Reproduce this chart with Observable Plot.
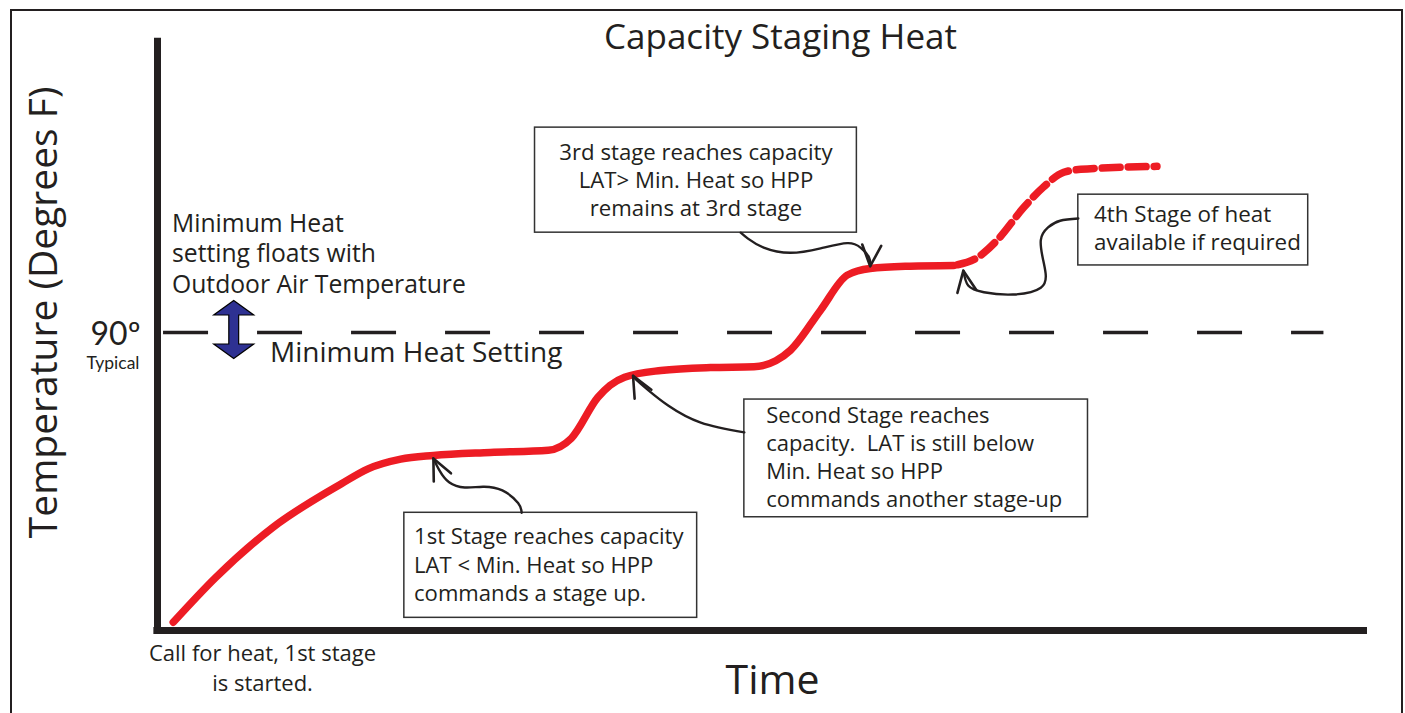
<!DOCTYPE html>
<html>
<head>
<meta charset="utf-8">
<script src="https://cdn.jsdelivr.net/npm/d3@7"></script>
<script src="https://cdn.jsdelivr.net/npm/@observablehq/plot@0.6"></script>
<style>
html, body { margin: 0; padding: 0; background: #fff; width: 1405px; height: 713px; overflow: hidden; }
#wrap { position: relative; width: 1405px; height: 713px; }
#wrap svg { position: absolute; left: 0; top: 0; }
#border { position: absolute; left: 10px; top: 9px; width: 1389px; height: 740px; border: 2px solid #231f20; pointer-events: none; }
</style>
</head>
<body>
<div id="wrap"><div id="border"></div></div>
<script>
// ---------- DATA (time in arbitrary units 0–100, temperature in °F) ----------
const stageTime = [1.3, 4.8, 9.5, 15.2, 17.4, 20.1, 22.8, 27.5, 32.3, 34.2, 36.4, 37.4, 38.6, 41.6, 45.7, 49.3, 51.1, 52.3, 54.8, 57.0, 58.9, 62.2, 65.8];
const stageTemp = [51.1, 57.1, 63.8, 69.7, 71.7, 73.0, 73.5, 73.9, 74.2, 75.8, 81.3, 82.9, 84.0, 84.9, 85.3, 85.4, 86.2, 87.6, 93.0, 97.7, 98.6, 98.9, 99.0];
const reserveTime = [65.8, 67.8, 69.4, 71.6, 73.2, 74.9, 76.3, 82.6];
const reserveTemp = [99.0, 100.1, 102.4, 106.8, 109.5, 111.5, 111.9, 112.3];
const minHeatSetting = 90;
const yTickLabels = ["90º", "Typical"];
const titleText = "Capacity Staging Heat";
const xLabel = "Time";
const yLabel = "Temperature (Degrees F)";
const startNote = "Call for heat, 1st stage\nis started.";
const floatNote = "Minimum Heat\nsetting floats with\nOutdoor Air Temperature";
const settingLabel = "Minimum Heat Setting";
const calloutTexts = [
  "3rd stage reaches capacity\nLAT> Min. Heat so HPP\nremains at 3rd stage",
  "4th Stage of heat\navailable if required",
  "1st Stage reaches capacity\nLAT < Min. Heat so HPP\ncommands a stage up.",
  "Second Stage reaches\ncapacity.\u00a0 LAT is still below\nMin. Heat so HPP\ncommands another stage-up"
];
// connector paths (time, temperature) from callout box to curve
const connectorA = {t: [48.2, 48.8, 50.1, 52.3, 54.8, 57.0, 58.1, 58.8, 58.9], T: [103.4, 102.6, 101.4, 100.7, 101.3, 102.0, 101.4, 100.1, 98.9]};
const connectorB = {t: [76.1, 74.6, 73.6, 73.0, 73.2, 73.4, 73.0, 70.7, 68.3, 67.0, 66.6], T: [105.3, 105.0, 104.1, 102.4, 99.7, 97.9, 96.0, 95.1, 95.4, 96.3, 98.3]};
const connectorC = {t: [30.1, 29.8, 28.5, 26.9, 25.4, 24.1, 23.3, 22.8], T: [65.8, 67.1, 68.8, 69.3, 69.2, 69.9, 71.5, 73.1]};
const connectorD = {t: [48.5, 44.9, 42.2, 40.6, 39.6, 39.3], T: [76.6, 77.9, 80.2, 82.2, 83.6, 84.2]};

// ---------- helpers ----------
const ink = "#231f20";
const font = "'Open Sans', Lato, sans-serif";
const pts = (t, T) => t.map((x, i) => ({t: x, T: T[i]}));

function openHead(color, context) {
  const doc = (context && context.document) || document;
  const ns = "http://www.w3.org/2000/svg";
  const m = doc.createElementNS(ns, "marker");
  m.setAttribute("viewBox", "-26 -14 30 28");
  m.setAttribute("markerUnits", "userSpaceOnUse");
  m.setAttribute("markerWidth", "30");
  m.setAttribute("markerHeight", "28");
  m.setAttribute("orient", "auto");
  m.setAttribute("overflow", "visible");
  const p = doc.createElementNS(ns, "path");
  p.setAttribute("d", "M-21,-9.5L0,0L-21,9.5");
  p.setAttribute("fill", "none");
  p.setAttribute("stroke", color);
  p.setAttribute("stroke-width", "2.6");
  p.setAttribute("stroke-linecap", "round");
  m.appendChild(p);
  m.node = () => m;
  return m;
}

const doubleArrow = {
  draw(ctx, size) {
    const h = Math.sqrt(size / Math.PI);
    const hw = h * 0.69, hh = h * 0.5, sw = h * 0.17;
    ctx.moveTo(0, -h);
    ctx.lineTo(hw, -h + hh);
    ctx.lineTo(sw, -h + hh);
    ctx.lineTo(sw, h - hh);
    ctx.lineTo(hw, h - hh);
    ctx.lineTo(0, h);
    ctx.lineTo(-hw, h - hh);
    ctx.lineTo(-sw, h - hh);
    ctx.lineTo(-sw, -h + hh);
    ctx.lineTo(-hw, -h + hh);
    ctx.closePath();
  }
};

const boxes = [
  {x1: 31.2, x2: 57.8, y1: 103.4, y2: 117.5},
  {x1: 76.1, x2: 95.1, y1: 99.0, y2: 108.5},
  {x1: 20.4, x2: 44.6, y1: 51.7, y2: 65.8},
  {x1: 48.5, x2: 76.9, y1: 65.2, y2: 81.0}
];
const connectorStyle = {x: "t", y: "T", curve: "natural", stroke: ink, strokeWidth: 2.4, strokeLinecap: "round", markerEnd: openHead};

const chart = Plot.plot({
  width: 1405,
  height: 713,
  marginLeft: 157,
  marginRight: 38,
  marginTop: 34,
  marginBottom: 83,
  x: {domain: [0, 100], axis: null},
  y: {domain: [50, 130], axis: null},
  style: {fontFamily: font, background: "transparent", overflow: "visible", color: ink},
  marks: [
    // minimum heat setting dashed line
    Plot.ruleY([minHeatSetting], {x1: 0.5, x2: 96.4, stroke: ink, strokeWidth: 3.5, strokeDasharray: "45,49"}),
    // axes
    Plot.ruleX([0], {y1: 49.5, y2: 129.5, stroke: ink, strokeWidth: 7}),
    Plot.ruleY([50], {x1: -0.3, x2: 100, stroke: ink, strokeWidth: 7}),
    // temperature curve
    Plot.line(pts(stageTime, stageTemp), {x: "t", y: "T", curve: "monotone-x", stroke: "#ed1c24", strokeWidth: 7.5}),
    Plot.line(pts(reserveTime, reserveTemp), {x: "t", y: "T", curve: "monotone-x", stroke: "#ed1c24", strokeWidth: 7.5, strokeDasharray: "18,8", strokeDashoffset: 22}),
    // double arrow
    Plot.dot([minHeatSetting], {x: 6.3, y: (d) => d, r: 29, symbol: doubleArrow, fill: "#2e3192", stroke: "#000", strokeWidth: 1.2, dy: -3}),
    // callout boxes
    Plot.rect(boxes, {x1: "x1", x2: "x2", y1: "y1", y2: "y2", fill: "white", stroke: "#333", strokeWidth: 1.5}),
    // connectors
    Plot.line(pts(connectorA.t, connectorA.T), connectorStyle),
    Plot.line(pts(connectorB.t, connectorB.T), connectorStyle),
    Plot.line(pts(connectorC.t, connectorC.T), connectorStyle),
    Plot.line(pts(connectorD.t, connectorD.T), connectorStyle),
    // callout texts
    Plot.text([calloutTexts[0]], {x: 44.5, y: 110.6, textAnchor: "middle", lineAnchor: "middle", fontSize: 22.2, lineHeight: 1.27, fill: ink}),
    Plot.text([calloutTexts[1]], {x: 77.4, y: 104.1, textAnchor: "start", lineAnchor: "middle", fontSize: 22.4, lineHeight: 1.25, fill: ink}),
    Plot.text([calloutTexts[2]], {x: 21.2, y: 59.0, textAnchor: "start", lineAnchor: "middle", fontSize: 22.1, lineHeight: 1.28, fill: ink}),
    Plot.text([calloutTexts[3]], {x: 50.3, y: 73.4, textAnchor: "start", lineAnchor: "middle", fontSize: 22, lineHeight: 1.27, fill: ink}),
    // min heat labels
    Plot.text([settingLabel], {x: 9.3, y: minHeatSetting, dy: 21, textAnchor: "start", fontSize: 28, fill: ink}),
    Plot.text([floatNote], {x: 1.2, y: 100.7, textAnchor: "start", lineAnchor: "middle", fontSize: 24.7, lineHeight: 1.22, fill: ink}),
    // y tick label
    Plot.text([yTickLabels[0]], {frameAnchor: "left", y: minHeatSetting, dx: -17, dy: 2, textAnchor: "end", fontSize: 32, fontFamily: "Lato", fill: ink}),
    Plot.text([yTickLabels[1]], {frameAnchor: "left", y: minHeatSetting, dx: -18, dy: 31, textAnchor: "end", fontSize: 17.5, fontFamily: "Lato", fill: ink}),
    // titles
    Plot.text([titleText], {frameAnchor: "top", dx: 18, dy: 3, lineAnchor: "middle", fontSize: 35, fill: ink}),
    Plot.text([xLabel], {frameAnchor: "bottom", dx: 10, dy: 50, lineAnchor: "middle", fontSize: 41, fill: ink}),
    Plot.text([yLabel], {x: -9.3, y: 92.7, rotate: -90, textAnchor: "middle", lineAnchor: "middle", fontSize: 39, fill: ink}),
    Plot.text([startNote], {frameAnchor: "bottom-left", dx: 105, dy: 36, textAnchor: "middle", lineAnchor: "middle", fontSize: 22, lineHeight: 1.36, fill: ink})
  ]
});
document.getElementById("wrap").prepend(chart);
</script>
</body>
</html>
